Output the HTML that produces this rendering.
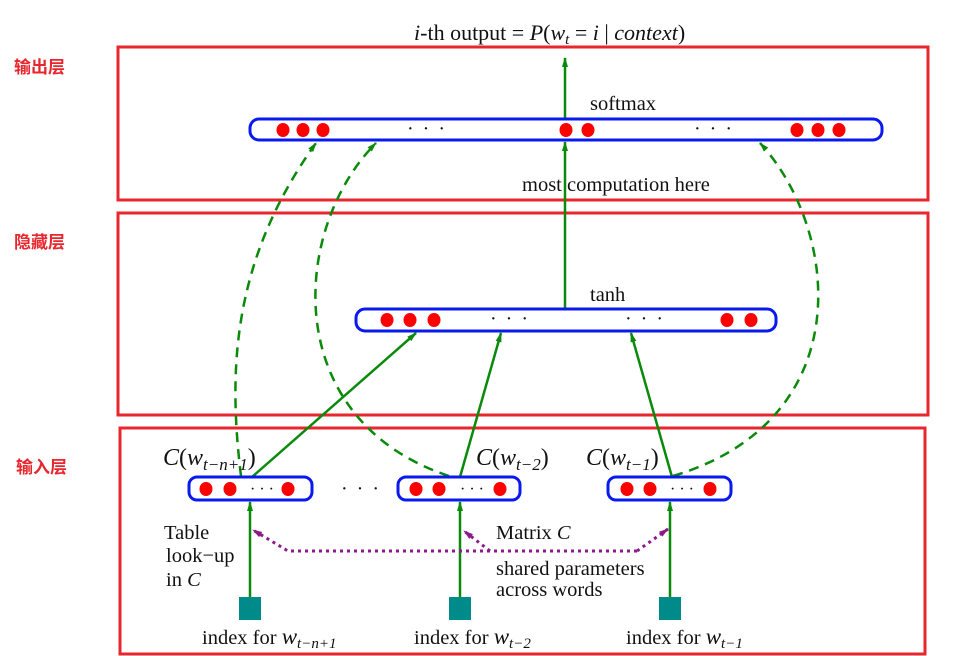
<!DOCTYPE html>
<html><head><meta charset="utf-8"><style>
html,body{margin:0;padding:0;background:#fff;}
svg{display:block;}
.s{font-family:"Liberation Serif",serif;fill:#111;}
.cn{font-family:"Liberation Sans","Noto Sans CJK SC",sans-serif;font-weight:bold;fill:#e8262e;font-size:17px;}
</style></head><body>
<svg width="958" height="656" viewBox="0 0 958 656" xmlns="http://www.w3.org/2000/svg">
<defs>
<marker id="ag" markerWidth="10" markerHeight="10" refX="9" refY="5" orient="auto" markerUnits="userSpaceOnUse"><path d="M0,2 L10,5 L0,8 z" fill="#0a8a0a"/></marker>
<marker id="ap" markerWidth="10" markerHeight="10" refX="9" refY="5" orient="auto" markerUnits="userSpaceOnUse"><path d="M0,2 L10,5 L0,8 z" fill="#8b1a8b"/></marker>
</defs>
<g fill="none" stroke="#e8262e" stroke-width="3">
<rect x="118" y="47" width="810" height="153"/>
<rect x="118" y="213" width="810" height="202"/>
<rect x="120" y="428" width="805" height="226"/>
</g>
<text class="cn" x="14" y="73">输出层</text>
<text class="cn" x="14" y="248">隐藏层</text>
<text class="cn" x="16" y="473">输入层</text>

<g fill="none" stroke="#0a8a0a" stroke-width="2.5" stroke-dasharray="10,7">
<path d="M241,476 C228,370 232,260 316,143" marker-end="url(#ag)"/>
<path d="M449,476 C280,420 290,230 376,143" marker-end="url(#ag)"/>
<path d="M673,476 C860,420 840,230 760,143" marker-end="url(#ag)"/>
</g>

<g stroke="#0a8a0a" stroke-width="2.5" fill="none">
<line x1="565" y1="119" x2="565" y2="58" marker-end="url(#ag)"/>
<line x1="565" y1="309" x2="565" y2="142" marker-end="url(#ag)"/>
<line x1="252" y1="477" x2="416" y2="333" marker-end="url(#ag)"/>
<line x1="460" y1="477" x2="501" y2="333" marker-end="url(#ag)"/>
<line x1="672" y1="477" x2="631" y2="333" marker-end="url(#ag)"/>
<line x1="250" y1="597" x2="250" y2="502" marker-end="url(#ag)"/>
<line x1="460" y1="597" x2="460" y2="502" marker-end="url(#ag)"/>
<line x1="670" y1="597" x2="670" y2="502" marker-end="url(#ag)"/>
</g>

<g stroke="#8b1a8b" stroke-width="3" fill="none" stroke-dasharray="3,4">
<polyline points="637,551 288,551 253,530" marker-end="url(#ap)"/>
<line x1="490" y1="551" x2="464" y2="531" marker-end="url(#ap)"/>
<line x1="637" y1="551" x2="668" y2="529" marker-end="url(#ap)"/>
</g>

<g fill="#fff" stroke="#0a1aee" stroke-width="3">
<rect x="250" y="119" width="632" height="21" rx="9"/>
<rect x="356" y="309" width="420" height="22" rx="9"/>
<rect x="189" y="477" width="123" height="23" rx="8"/>
<rect x="398" y="477" width="122" height="23" rx="8"/>
<rect x="608" y="477" width="123" height="23" rx="8"/>
</g>
<g fill="#f00">
<ellipse cx="283" cy="130" rx="6.5" ry="7"/><ellipse cx="303" cy="130" rx="6.5" ry="7"/><ellipse cx="323" cy="130" rx="6.5" ry="7"/>
<ellipse cx="566" cy="130" rx="6.5" ry="7"/><ellipse cx="588" cy="130" rx="6.5" ry="7"/>
<ellipse cx="797" cy="130" rx="6.5" ry="7"/><ellipse cx="818" cy="130" rx="6.5" ry="7"/><ellipse cx="839" cy="130" rx="6.5" ry="7"/>
<ellipse cx="387" cy="320" rx="6.5" ry="7"/><ellipse cx="410" cy="320" rx="6.5" ry="7"/><ellipse cx="434" cy="320" rx="6.5" ry="7"/>
<ellipse cx="727" cy="320" rx="6.5" ry="7"/><ellipse cx="751" cy="320" rx="6.5" ry="7"/>
<ellipse cx="206" cy="489" rx="6.5" ry="7"/><ellipse cx="230" cy="489" rx="6.5" ry="7"/><ellipse cx="288" cy="489" rx="6.5" ry="7"/>
<ellipse cx="416" cy="489" rx="6.5" ry="7"/><ellipse cx="439" cy="489" rx="6.5" ry="7"/><ellipse cx="500" cy="489" rx="6.5" ry="7"/>
<ellipse cx="627" cy="489" rx="6.5" ry="7"/><ellipse cx="650" cy="489" rx="6.5" ry="7"/><ellipse cx="710" cy="489" rx="6.5" ry="7"/>
</g>
<g class="s" font-size="20" letter-spacing="2">
<text x="407" y="135">· · ·</text><text x="694" y="135">· · ·</text>
<text x="490" y="325">· · ·</text><text x="625" y="325">· · ·</text>
<text x="341" y="495">· · ·</text>
</g>
<g class="s" font-size="16">
<text x="250" y="494">· · ·</text><text x="460" y="494">· · ·</text><text x="670" y="494">· · ·</text>
</g>

<g fill="#008b8b">
<rect x="239" y="597" width="22" height="23"/>
<rect x="449" y="597" width="22" height="23"/>
<rect x="659" y="597" width="22" height="23"/>
</g>

<g class="s" font-size="22">
<text x="414" y="40"><tspan font-style="italic">i</tspan>-th output = <tspan font-style="italic">P</tspan>(<tspan font-style="italic">w</tspan><tspan font-style="italic" font-size="15" dy="4">t</tspan><tspan dy="-4">  =  </tspan><tspan font-style="italic">i</tspan> | <tspan font-style="italic">context</tspan>)</text>
</g>
<g class="s" font-size="20.5">
<text x="590" y="110">softmax</text>
<text x="522" y="191">most  computation here</text>
<text x="590" y="301">tanh</text>
<text x="163" y="465" font-size="24"><tspan font-style="italic">C</tspan>(<tspan font-style="italic">w</tspan><tspan font-style="italic" font-size="17" dy="5">t−n+1</tspan><tspan dy="-5">)</tspan></text>
<text x="476" y="465" font-size="24"><tspan font-style="italic">C</tspan>(<tspan font-style="italic">w</tspan><tspan font-style="italic" font-size="17" dy="5">t−2</tspan><tspan dy="-5">)</tspan></text>
<text x="586" y="465" font-size="24"><tspan font-style="italic">C</tspan>(<tspan font-style="italic">w</tspan><tspan font-style="italic" font-size="17" dy="5">t−1</tspan><tspan dy="-5">)</tspan></text>
<text x="164" y="539">Table</text>
<text x="166" y="562">look−up</text>
<text x="166" y="586">in <tspan font-style="italic">C</tspan></text>
<text x="496" y="539">Matrix <tspan font-style="italic">C</tspan></text>
<text x="496" y="575">shared parameters</text>
<text x="496" y="596">across words</text>
<text x="202" y="644">index for <tspan font-style="italic" font-size="23">w</tspan><tspan font-style="italic" font-size="15" dy="4">t−n+1</tspan></text>
<text x="414" y="644">index for <tspan font-style="italic" font-size="23">w</tspan><tspan font-style="italic" font-size="15" dy="4">t−2</tspan></text>
<text x="626" y="644">index for  <tspan font-style="italic" font-size="23">w</tspan><tspan font-style="italic" font-size="15" dy="4">t−1</tspan></text>
</g>
</svg>
</body></html>
